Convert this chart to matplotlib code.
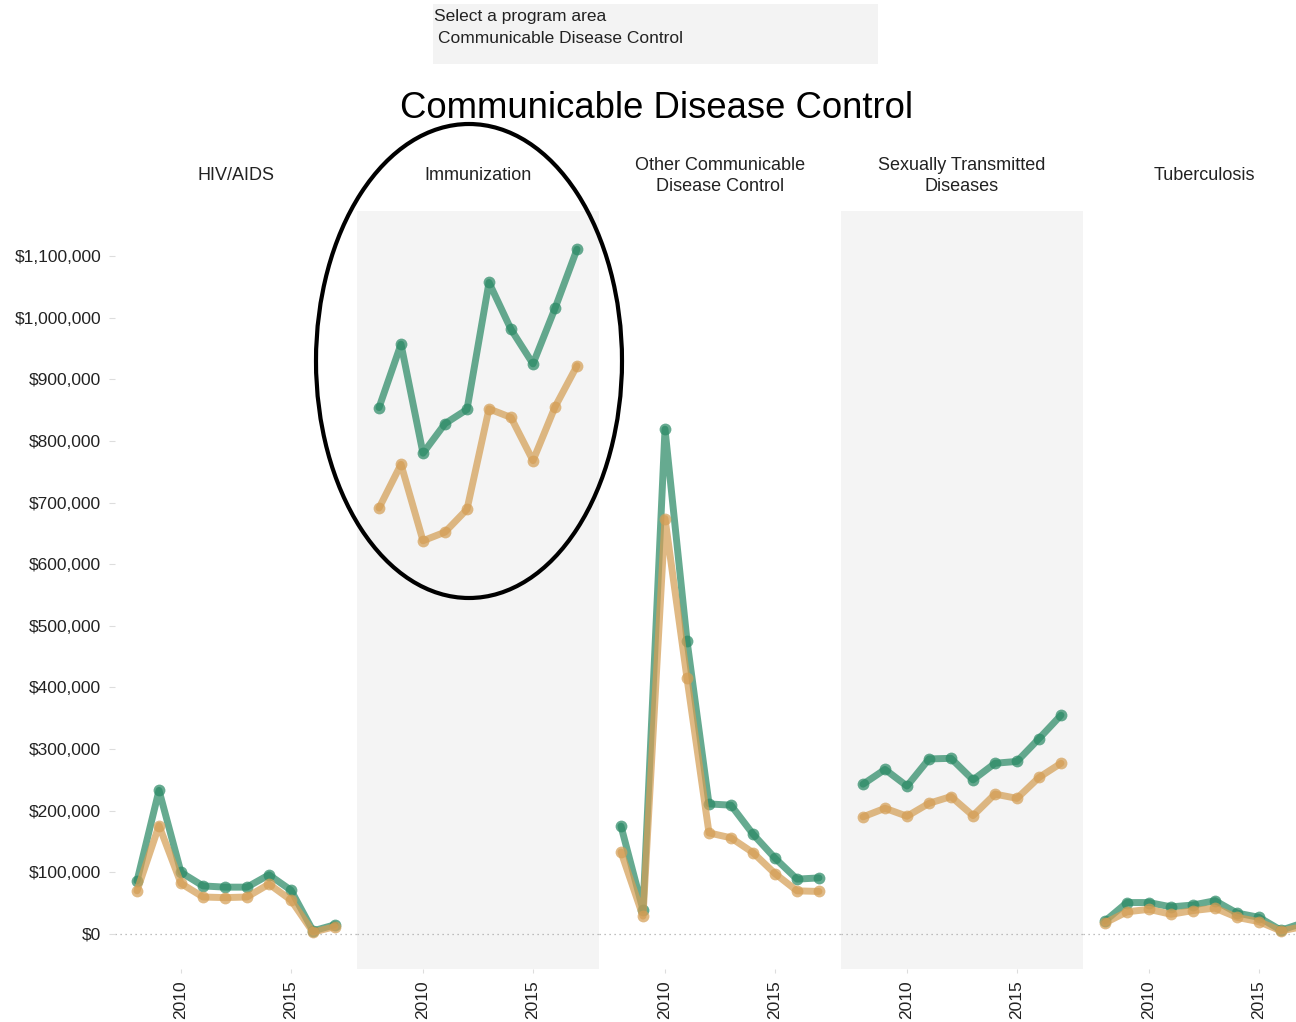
import matplotlib
matplotlib.use("Agg")
import matplotlib.pyplot as plt
from matplotlib.patches import Ellipse, Rectangle
from matplotlib.ticker import FuncFormatter

plt.rcParams['font.family'] = ['Liberation Sans', 'DejaVu Sans']

years = list(range(2008, 2018))
panels = ["HIV/AIDS", "Immunization", "Other Communicable\nDisease Control",
          "Sexually Transmitted\nDiseases", "Tuberculosis"]

green_vals = [
    [86000, 233000, 100000, 78000, 76000, 76000, 96000, 71000, 5000, 15000],
    [854000, 957000, 780000, 828000, 851000, 1057000, 981000, 925000, 1015000, 1111000],
    [175000, 39000, 819000, 476000, 211000, 209000, 162000, 123000, 89000, 91000],
    [243000, 267000, 240000, 284000, 285000, 250000, 277000, 280000, 317000, 355000],
    [21000, 51000, 51000, 44000, 47000, 54000, 34000, 27000, 6000, 18000],
]
orange_vals = [
    [70000, 176000, 82000, 60000, 59000, 60000, 81000, 55000, 3000, 12000],
    [691000, 762000, 638000, 652000, 689000, 852000, 838000, 768000, 855000, 922000],
    [133000, 29000, 674000, 415000, 164000, 156000, 132000, 98000, 70000, 69000],
    [190000, 204000, 191000, 212000, 223000, 192000, 227000, 220000, 254000, 277000],
    [18000, 36000, 40000, 32000, 38000, 42000, 27000, 20000, 5000, 12000],
]
shaded = [False, True, False, True, False]

y_ticks = list(range(0, 1100001, 100000))
x_ticks = [2010, 2015]

W, H = 1296, 1022
fig = plt.figure(figsize=(W / 100, H / 100), dpi=100)

GREEN = '#2b8a66'
ORANGE = '#d49e55'

panel_w = 242
x0 = 115
top_px, bot_px = 211, 969
ymin, ymax = -56800, 1173000

for i, name in enumerate(panels):
    left = (x0 + panel_w * i) / W
    ax = fig.add_axes([left, 1 - bot_px / H, panel_w / W, (bot_px - top_px) / H])
    ax.set_facecolor('#f4f4f4' if shaded[i] else 'white')
    ax.axhline(0, color='#aaaaaa', lw=0.9, ls=(0, (1, 3)), zorder=1)
    ax.plot(years, green_vals[i], color=GREEN, lw=5, alpha=0.72, solid_capstyle='round',
            solid_joinstyle='round', zorder=2)
    ax.plot(years, green_vals[i], ls='none', marker='o', ms=8.5, color=GREEN, alpha=0.72,
            markeredgewidth=0, zorder=3)
    ax.plot(years, orange_vals[i], color=ORANGE, lw=5, alpha=0.72, solid_capstyle='round',
            solid_joinstyle='round', zorder=4)
    ax.plot(years, orange_vals[i], ls='none', marker='o', ms=8.5, color=ORANGE, alpha=0.72,
            markeredgewidth=0, zorder=5)
    ax.set_xlim(2007, 2018)
    ax.set_ylim(ymin, ymax)
    for s in ax.spines.values():
        s.set_visible(False)
    ax.set_xticks(x_ticks)
    ax.set_xticklabels([str(t) for t in x_ticks], rotation=90, fontsize=12.5, color='#222222')
    ax.tick_params(axis='x', length=3, color='#dddddd', pad=5)
    if i == 0:
        ax.set_yticks(y_ticks)
        ax.yaxis.set_major_formatter(FuncFormatter(lambda v, p: "${:,.0f}".format(v)))
        ax.tick_params(axis='y', length=4, color='#dddddd', labelsize=12.5,
                       labelcolor='#222222', pad=6)
    else:
        ax.set_yticks([])
    cx = (x0 + panel_w * i + panel_w / 2) / W
    fig.text(cx, 1 - 176 / H, name, ha='center', va='center', fontsize=13,
             color='#222222', linespacing=1.3)

# title
fig.text(657 / W, 1 - 108 / H, "Communicable Disease Control", ha='center', va='center',
         fontsize=26.3, color='black')

# selector box
fig.patches.append(Rectangle((433 / W, 1 - 64 / H), 445 / W, 60 / H, transform=fig.transFigure,
                             facecolor='#f3f3f3', edgecolor='none', zorder=0))
fig.text(434 / W, 1 - 16 / H, "Select a program area", ha='left', va='center',
         fontsize=12.5, color='#222222')
fig.text(438 / W, 1 - 38 / H, "Communicable Disease Control", ha='left', va='center',
         fontsize=12.5, color='#222222')

# highlight ellipse
fig.patches.append(Ellipse((469 / W, 1 - 361 / H), 306 / W, 474 / H, transform=fig.transFigure,
                           fill=False, edgecolor='black', lw=3, zorder=10))

fig.savefig("out.png", dpi=100)
